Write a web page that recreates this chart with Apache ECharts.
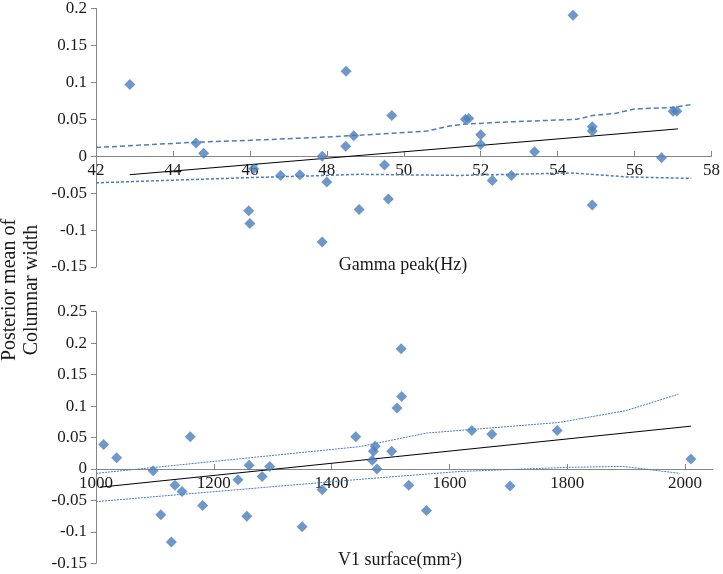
<!DOCTYPE html>
<html>
<head>
<meta charset="utf-8">
<script src="https://cdn.jsdelivr.net/npm/echarts@6/dist/echarts.min.js"></script>
<style>
html,body{margin:0;padding:0;background:#fff;}
#c{width:723px;height:574px;}
</style>
</head>
<body>
<div id="c"></div>
<script>
// ---- Top panel: Gamma peak (Hz) ----
var gammaX = [42.88, 44.6, 44.8, 45.97, 46.0, 46.1, 46.8, 47.3, 47.88, 48.0, 47.88, 48.5, 48.49, 48.7, 48.84, 49.5, 49.69, 49.6, 51.6, 51.69, 52.0, 52.0, 52.3, 52.8, 53.4, 54.4, 54.9, 54.9, 54.9, 56.7, 57.0, 57.1];
var gammaY = [0.097, 0.018, 0.004, -0.074, -0.091, -0.017, -0.026, -0.025, 0.0, -0.035, -0.116, 0.115, 0.0136, 0.0276, -0.072, -0.012, 0.055, -0.058, 0.050, 0.051, 0.029, 0.016, -0.033, -0.026, 0.006, 0.191, 0.040, 0.034, -0.066, -0.002, 0.061, 0.061];
var gammaFitX = [42.88, 57.13];
var gammaFitY = [-0.025, 0.037];
var gammaUpX = [42, 44.6, 46, 48, 48.86, 50.6, 51.2, 51.6, 52.8, 54.5, 54.9, 55.5, 56.0, 57.0, 57.47];
var gammaUpY = [0.0118, 0.019, 0.0215, 0.026, 0.0285, 0.034, 0.041, 0.0435, 0.0466, 0.050, 0.055, 0.058, 0.064, 0.066, 0.070];
var gammaLoX = [42, 46, 48, 48.86, 51.45, 54.4, 55.8, 57.47];
var gammaLoY = [-0.036, -0.029, -0.026, -0.0245, -0.026, -0.0227, -0.028, -0.030];

// ---- Bottom panel: V1 surface (mm2) ----
var v1X = [1013, 1035, 1097, 1110, 1128, 1134, 1146, 1160, 1181, 1241, 1260, 1256, 1282, 1295, 1350, 1384, 1441, 1474, 1471, 1469, 1477, 1502, 1511, 1518, 1519, 1531, 1561, 1638, 1672, 1703, 1783, 2010];
var v1Y = [0.039, 0.018, -0.003, -0.073, -0.116, -0.026, -0.036, 0.051, -0.058, -0.017, 0.006, -0.075, -0.012, 0.004, -0.092, -0.033, 0.051, 0.036, 0.028, 0.014, 0.0, 0.028, 0.097, 0.191, 0.115, -0.026, -0.066, 0.061, 0.055, -0.027, 0.061, 0.016];
var v1FitX = [1007, 2010];
var v1FitY = [-0.029, 0.068];
var v1UpX = [1000, 1448, 1561, 1787, 1901, 1989];
var v1UpY = [-0.007, 0.0355, 0.057, 0.074, 0.093, 0.119];
var v1LoX = [1000, 1448, 1618, 1799, 1895, 1991];
var v1LoY = [-0.052, -0.0165, -0.004, 0.0025, 0.004, -0.007];

var xTitleTop = 'Gamma peak(Hz)';
var xTitleBottom = 'V1 surface(mm\u00B2)';
var yTitle = 'Posterior mean of\nColumnar width';

function pairs(xs, ys){ return xs.map(function(x,i){ return [x, ys[i]]; }); }

var FAMILY = 'Liberation Serif';
var FONT = '"Liberation Serif", serif';
var BLUE = '#4a7ebb';
var AX = '#868686';
var TXT = '#1a1a1a';

var grids = [
  {left:96, top:8, width:616.7, height:259},
  {left:96, top:311.7, width:616.7, height:251.6}
];
var yRanges = [[-0.15, 0.2], [-0.15, 0.25]];

function fmt(v){ return String(Math.round(v*1000)/1000); }

function xAxisCfg(idx, min, max, interval){
  var yr = yRanges[idx];
  // place x axis line at y = 0 of its panel
  var off = -grids[idx].height * (0 - yr[0]) / (yr[1] - yr[0]);
  return {
    type:'value', gridIndex: idx, min:min, max:max, interval:interval,
    position:'bottom', offset: off,
    axisLine:{show:true, onZero:false, lineStyle:{color:AX, width:1}},
    axisTick:{show:true, inside:true, length:5, lineStyle:{color:AX}},
    axisLabel:{color:TXT, fontFamily:FAMILY, fontSize:17, margin:6, showMaxLabel: idx===0, showMinLabel:true,
               formatter:function(v){ return String(v); }},
    splitLine:{show:false}
  };
}
function yAxisCfg(idx){
  return {
    type:'value', gridIndex: idx, min:yRanges[idx][0], max:yRanges[idx][1], interval:0.05,
    axisLine:{show:true, onZero:false, lineStyle:{color:AX, width:1}},
    axisTick:{show:true, inside:false, length:5, lineStyle:{color:AX}},
    axisLabel:{color:TXT, fontFamily:FAMILY, fontSize:17, margin:9, formatter:fmt},
    splitLine:{show:false}
  };
}

var chart = echarts.init(document.getElementById('c'), null, {renderer:'canvas'});
chart.setOption({
  animation:false,
  backgroundColor:'#fff',
  textStyle:{fontFamily:FAMILY},
  grid:grids,
  xAxis:[ xAxisCfg(0, 42, 58, 2), xAxisCfg(1, 1000, 2047, 200) ],
  yAxis:[ yAxisCfg(0), yAxisCfg(1) ],
  graphic:[
    {type:'text', x:21, y:290, rotation:Math.PI/2,
     style:{text:yTitle, font:'20px '+FONT, fill:TXT, textAlign:'center', textVerticalAlign:'middle', lineHeight:22}},
    {type:'text', x:403, y:265,
     style:{text:xTitleTop, font:'18px '+FONT, fill:TXT, textAlign:'center', textVerticalAlign:'middle'}},
    {type:'text', x:400, y:560,
     style:{text:xTitleBottom, font:'18px '+FONT, fill:TXT, textAlign:'center', textVerticalAlign:'middle'}}
  ],
  series:[
    {type:'line', xAxisIndex:0, yAxisIndex:0, data:pairs(gammaUpX, gammaUpY), showSymbol:false, symbol:'none',
     lineStyle:{color:BLUE, width:1.5, type:[5,3]}, z:2},
    {type:'line', xAxisIndex:0, yAxisIndex:0, data:pairs(gammaLoX, gammaLoY), showSymbol:false, symbol:'none',
     lineStyle:{color:BLUE, width:1.5, type:[3,2]}, z:2},
    {type:'line', xAxisIndex:0, yAxisIndex:0, data:pairs(gammaFitX, gammaFitY), showSymbol:false, symbol:'none',
     lineStyle:{color:'#000', width:1}, z:3},
    {type:'scatter', xAxisIndex:0, yAxisIndex:0, data:pairs(gammaX, gammaY), symbol:'diamond', symbolSize:11,
     itemStyle:{color:BLUE}, z:4},

    {type:'line', xAxisIndex:1, yAxisIndex:1, data:pairs(v1UpX, v1UpY), showSymbol:false, symbol:'none',
     lineStyle:{color:BLUE, width:1, type:[2,1]}, z:2},
    {type:'line', xAxisIndex:1, yAxisIndex:1, data:pairs(v1LoX, v1LoY), showSymbol:false, symbol:'none',
     lineStyle:{color:BLUE, width:1, type:[2,1]}, z:2},
    {type:'line', xAxisIndex:1, yAxisIndex:1, data:pairs(v1FitX, v1FitY), showSymbol:false, symbol:'none',
     lineStyle:{color:'#000', width:1}, z:3},
    {type:'scatter', xAxisIndex:1, yAxisIndex:1, data:pairs(v1X, v1Y), symbol:'diamond', symbolSize:11,
     itemStyle:{color:BLUE}, z:4}
  ]
});
</script>
</body>
</html>
